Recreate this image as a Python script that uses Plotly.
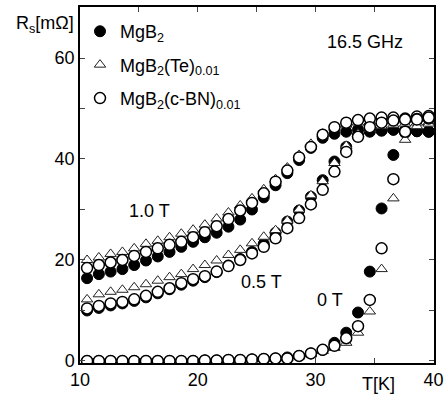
import plotly.graph_objects as go

# Temperature grid (K)
T = [10.6 + i for i in range(30)]

# 1.0 T
mgb2_10 = [16.4, 17.2, 17.7, 18.2, 19.0, 19.9, 20.7, 21.6, 22.6, 23.6, 24.5, 25.4, 26.6, 28.0, 30.0,
           32.4, 34.8, 37.2, 39.8, 42.2, 44.2, 45.0, 45.4, 45.8, 45.6, 45.7, 45.8, 45.7, 45.5, 45.4]
te_10 = [20.0, 20.5, 21.2, 21.6, 22.3, 23.2, 23.8, 24.5, 25.2, 26.0, 27.0, 28.2, 29.4, 30.8, 32.2,
         34.0, 36.0, 38.3, 40.8, 43.0, 45.0, 46.2, 46.8, 47.2, 47.4, 47.5, 47.6, 47.8, 48.0, 48.1]
bn_10 = [18.4, 19.0, 19.5, 20.0, 20.8, 21.6, 22.3, 23.0, 23.6, 24.5, 25.5, 26.7, 28.1, 29.8, 31.3,
         33.2, 35.5, 37.7, 40.3, 42.4, 44.8, 46.3, 47.2, 47.7, 48.0, 48.2, 48.2, 48.0, 48.4, 48.5]

# 0.5 T
mgb2_05 = [10.0, 10.5, 11.0, 11.4, 11.9, 12.6, 13.4, 14.2, 15.1, 15.9, 16.6, 17.6, 18.9, 20.2, 21.6,
           23.2, 25.4, 27.6, 29.8, 32.5, 35.8, 39.5, 42.4, 44.8, 45.4, 45.6, 45.8, 45.6, 45.5, 45.4]
te_05 = [12.2, 13.2, 13.7, 14.1, 14.6, 15.2, 15.9, 16.6, 17.2, 18.2, 19.0, 19.9, 21.0, 22.0, 23.3,
         24.6, 25.9, 27.8, 30.0, 32.8, 35.6, 39.2, 42.6, 45.0, 46.0, 46.5, 46.8, 47.0, 47.2, 47.3]
bn_05 = [10.4, 10.9, 11.4, 11.7, 12.2, 12.9, 13.7, 14.4, 15.4, 16.2, 16.8, 17.7, 18.8, 20.0, 21.3,
         22.6, 24.3, 26.3, 28.3, 31.0, 33.9, 37.5, 41.4, 44.4, 46.3, 47.2, 47.6, 47.8, 47.9, 48.0]

# 0 T
mgb2_0 = [0, 0, 0, 0, 0, 0, 0, 0, 0, 0, 0.1, 0.1, 0.2, 0.2, 0.3,
          0.4, 0.5, 0.7, 1.0, 1.5, 2.2, 3.6, 5.6, 9.6, 17.7, 30.2, 40.8, 45.2, 45.6, 45.5]
te_0 = [0, 0, 0, 0, 0, 0, 0, 0, 0, 0, 0.1, 0.1, 0.2, 0.2, 0.3,
        0.4, 0.5, 0.6, 0.9, 1.3, 2.0, 2.6, 3.6, 5.6, 9.8, 18.2, 32.2, 43.8, 46.5, 47.0]
bn_0 = [0, 0, 0, 0, 0, 0, 0, 0, 0, 0, 0.1, 0.1, 0.2, 0.2, 0.3,
        0.4, 0.5, 0.5, 1.0, 1.5, 2.2, 3.0, 4.5, 6.9, 12.1, 22.3, 36.0, 45.4, 47.8, 48.2]

x_ticks = [10, 15, 20, 25, 30, 35, 40]
x_labels = ["10", "", "20", "", "30", "", "40"]
y_ticks = [0, 10, 20, 30, 40, 50, 60]
y_labels = ["0", "", "20", "", "40", "", "60"]

names = ["MgB<sub>2</sub>", "MgB<sub>2</sub>(Te)<sub>0.01</sub>", "MgB<sub>2</sub>(c-BN)<sub>0.01</sub>"]

TT = T * 3
fig = go.Figure()
fig.add_trace(go.Scatter(x=TT, y=mgb2_10 + mgb2_05 + mgb2_0, mode="markers", name=names[0],
                         legendgroup="a",
                         marker=dict(symbol="circle", size=11, color="black",
                                     line=dict(color="black", width=1))))
fig.add_trace(go.Scatter(x=TT, y=te_10 + te_05 + te_0, mode="markers", name=names[1],
                         legendgroup="b",
                         marker=dict(symbol="triangle-up", size=10, color="white",
                                     line=dict(color="#222", width=1))))
fig.add_trace(go.Scatter(x=TT, y=bn_10 + bn_05 + bn_0, mode="markers", name=names[2],
                         legendgroup="c",
                         marker=dict(symbol="circle", size=11, color="white",
                                     line=dict(color="black", width=1.5))))

font = "Liberation Sans, Arial, sans-serif"
fig.update_layout(
    width=445, height=396,
    margin=dict(l=80, r=11, t=7, b=33, autoexpand=False),
    paper_bgcolor="white", plot_bgcolor="white",
    font=dict(family=font, size=18, color="black"),
    showlegend=True,
    legend=dict(x=0, y=0.983, xanchor="left", yanchor="top", bgcolor="rgba(0,0,0,0)",
                font=dict(size=18), traceorder="grouped", tracegroupgap=7),
    xaxis=dict(range=[10, 40.05], tickvals=x_ticks, ticktext=x_labels, ticks="inside",
               ticklen=5, tickwidth=1.2, showline=True, linewidth=1.5, linecolor="black",
               mirror="ticks", showgrid=False, zeroline=False, tickfont=dict(size=18),
               automargin=False),
    yaxis=dict(range=[-0.4, 70.1], tickvals=y_ticks, ticktext=y_labels, ticks="inside",
               ticklen=5, tickwidth=1.2, showline=True, linewidth=1.5, linecolor="black",
               mirror="ticks", showgrid=False, zeroline=False, tickfont=dict(size=18),
               automargin=False),
    annotations=[
        dict(x=15.9, y=29.7, xref="x", yref="y", text="1.0 T", showarrow=False, font=dict(size=18)),
        dict(x=25.4, y=15.6, xref="x", yref="y", text="0.5 T", showarrow=False, font=dict(size=18)),
        dict(x=31.2, y=12.0, xref="x", yref="y", text="0 T", showarrow=False, font=dict(size=18)),
        dict(x=34.2, y=63.2, xref="x", yref="y", text="16.5 GHz", showarrow=False, font=dict(size=18)),
        dict(x=35.3, y=0, xref="x", yref="paper", yanchor="middle", yshift=-21, text="T[K]",
             showarrow=False, font=dict(size=18)),
        dict(x=-0.012, y=1, xref="paper", yref="paper", xanchor="right", yanchor="top", yshift=-4,
             text="R<sub>s</sub>[mΩ]", showarrow=False, font=dict(size=18)),
    ],
)
fig.write_html("out.html", config={"displayModeBar": False},
               post_script="document.body.style.margin='0';")
